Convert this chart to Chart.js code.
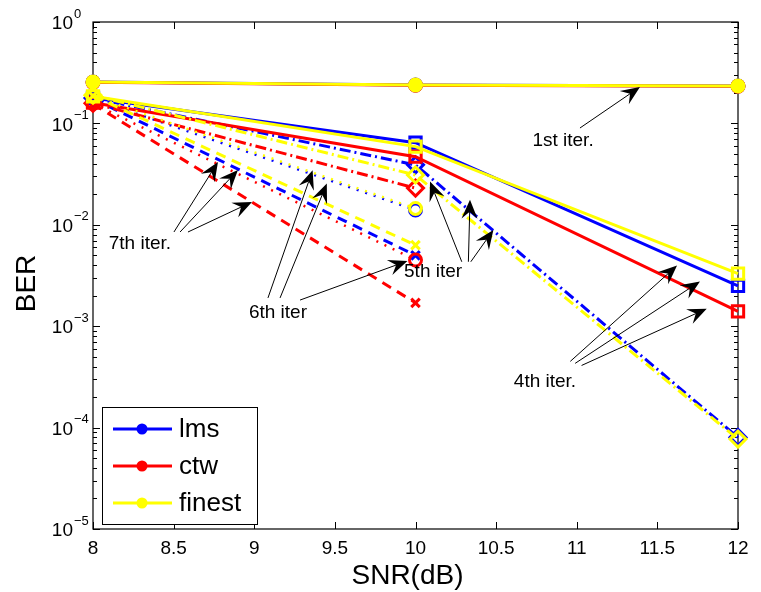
<!DOCTYPE html>
<html>
<head>
<meta charset="utf-8">
<script src="https://cdn.jsdelivr.net/npm/chart.js@4/dist/chart.umd.min.js"></script>
<style>
  html, body { margin: 0; padding: 0; background: #fff; }
  canvas { display: block; }
</style>
</head>
<body>
<canvas id="ber" width="761" height="592"></canvas>
<script>
// SNR points (dB)
const snr = [8, 10, 12];
const xTickValues = [8, 8.5, 9, 9.5, 10, 10.5, 11, 11.5, 12];
const xTickLabels = ['8', '8.5', '9', '9.5', '10', '10.5', '11', '11.5', '12'];
const yDecadeExponents = [0, -1, -2, -3, -4, -5];

// BER per receiver and iteration (null = no errors counted, not drawn)
const lmsIter1 = [0.256, 0.239, 0.234];
const ctwIter1 = [0.254, 0.238, 0.233];
const finestIter1 = [0.256, 0.239, 0.234];

const lmsIter4 = [0.178, 0.0645, 0.0025];
const ctwIter4 = [0.160, 0.047, 0.0014];
const finestIter4 = [0.185, 0.059, 0.0033];

const lmsIter5 = [0.178, 0.039, 0.00008];
const ctwIter5 = [0.158, 0.023, null];
const finestIter5 = [0.190, 0.031, 0.000077];

const lmsIter6 = [0.176, 0.014, null];
const ctwIter6 = [0.157, 0.0045, null];
const finestIter6 = [0.186, 0.0145, null];

const lmsIter7 = [0.175, 0.005, null];
const ctwIter7 = [0.155, 0.0017, null];
const finestIter7 = [0.187, 0.0063, null];

const receivers = ['lms', 'ctw', 'finest'];
const iterations = ['1st', '4th', '5th', '6th', '7th'];
const berTable = {
  lms:    { '1st': lmsIter1, '4th': lmsIter4, '5th': lmsIter5, '6th': lmsIter6, '7th': lmsIter7 },
  ctw:    { '1st': ctwIter1, '4th': ctwIter4, '5th': ctwIter5, '6th': ctwIter6, '7th': ctwIter7 },
  finest: { '1st': finestIter1, '4th': finestIter4, '5th': finestIter5, '6th': finestIter6, '7th': finestIter7 }
};

// Annotation labels and arrow targets, in (SNR, BER) units
const notes = [
  { text: '1st iter.', at: [10.915, 0.0671], arrows: [[[11.02, 0.0901], [11.392, 0.2286]]] },
  { text: '7th iter.', at: [8.291, 0.00647], arrows: [
      [[8.502, 0.00849], [8.775, 0.0416]],
      [[8.540, 0.00849], [8.899, 0.0347]],
      [[8.589, 0.00849], [8.986, 0.0168]] ] },
  { text: '6th iter', at: [9.147, 0.00135], arrows: [
      [[9.085, 0.0019], [9.362, 0.0345]],
      [[9.160, 0.0019], [9.450, 0.0255]],
      [[9.284, 0.00181], [9.950, 0.0044]] ] },
  { text: '5th iter', at: [10.109, 0.00343], arrows: [
      [[10.287, 0.00432], [10.090, 0.0267]],
      [[10.328, 0.00432], [10.338, 0.0177]],
      [[10.343, 0.00432], [10.483, 0.0089]] ] },
  { text: '4th iter.', at: [10.803, 0.000282], arrows: [
      [[10.96, 0.00045], [11.622, 0.00396]],
      [[10.99, 0.00043], [11.764, 0.00276]],
      [[11.03, 0.00041], [11.806, 0.00149]] ] }
];

const colors = { lms: '#0000ff', ctw: '#ff0000', finest: '#ffff00' };
const drawOrder = { finest: 0, ctw: 1, lms: 2 };
const iterStyle = {
  '1st': { dash: [], width: 3, point: 'circle', radius: 6, filled: true },
  '4th': { dash: [], width: 3, point: 'rect', radius: 8, filled: false },
  '5th': { dash: [11, 4, 2, 4], width: 3, point: 'rectRot', radius: 8, filled: false },
  '6th': { dash: [2, 7], width: 2.5, point: 'circle', radius: 6, filled: false },
  '7th': { dash: [10, 7], width: 3, point: 'crossRot', radius: 6, filled: false }
};

const FONT = "'Liberation Sans', Arial, Helvetica, sans-serif";

const datasets = [];
receivers.forEach(r => {
  iterations.forEach(it => {
    const st = iterStyle[it];
    const vals = berTable[r][it];
    const pts = [];
    snr.forEach((s, i) => { if (vals[i] !== null) pts.push({ x: s, y: vals[i] }); });
    datasets.push({
      label: r + ' ' + it,
      data: pts,
      borderColor: colors[r],
      backgroundColor: colors[r],
      borderWidth: st.width,
      borderDash: st.dash,
      pointStyle: st.point,
      pointRadius: st.radius,
      pointBorderWidth: 3,
      pointBorderColor: colors[r],
      pointBackgroundColor: st.filled ? colors[r] : 'rgba(0,0,0,0)',
      order: drawOrder[r],
      clip: false,
      tension: 0,
      fill: false
    });
  });
});

// Boxed axes with inward ticks on all four sides, plus tick labels and titles
const axesFrame = {
  id: 'axesFrame',
  beforeDatasetsDraw(chart) {
    const { ctx, chartArea: a, scales: { x, y } } = chart;
    ctx.save();
    ctx.strokeStyle = '#000';
    ctx.lineWidth = 1.2;
    ctx.strokeRect(a.left, a.top, a.right - a.left, a.bottom - a.top);

    ctx.lineWidth = 1;
    ctx.beginPath();
    xTickValues.forEach(v => {
      const px = Math.round(x.getPixelForValue(v)) + 0.5;
      ctx.moveTo(px, a.bottom); ctx.lineTo(px, a.bottom - 7);
      ctx.moveTo(px, a.top); ctx.lineTo(px, a.top + 7);
    });
    yDecadeExponents.forEach(e => {
      for (let m = 1; m <= 9; m++) {
        if (e === 0 && m > 1) break;
        const v = m * Math.pow(10, e);
        const py = Math.round(y.getPixelForValue(v)) + 0.5;
        const len = m === 1 ? 7 : 4;
        ctx.moveTo(a.left, py); ctx.lineTo(a.left + len, py);
        ctx.moveTo(a.right, py); ctx.lineTo(a.right - len, py);
      }
    });
    ctx.stroke();

    ctx.fillStyle = '#000';
    ctx.font = '19px ' + FONT;
    ctx.textAlign = 'center';
    ctx.textBaseline = 'middle';
    xTickValues.forEach((v, i) => {
      ctx.fillText(xTickLabels[i], x.getPixelForValue(v), a.bottom + 20);
    });

    yDecadeExponents.forEach(e => {
      const py = y.getPixelForValue(Math.pow(10, e));
      ctx.font = '19px ' + FONT;
      ctx.textAlign = 'right';
      ctx.textBaseline = 'middle';
      ctx.fillText('10', 73, py + 2);
      ctx.font = '13px ' + FONT;
      ctx.textAlign = 'left';
      ctx.fillText(e === 0 ? '0' : '\u2212' + Math.abs(e), 74, py - 8);
    });

    ctx.font = '28px ' + FONT;
    ctx.textAlign = 'center';
    ctx.textBaseline = 'middle';
    ctx.fillText('SNR(dB)', (a.left + a.right) / 2 - 8, a.bottom + 47);
    ctx.translate(27, (a.top + a.bottom) / 2 + 8);
    ctx.rotate(-Math.PI / 2);
    ctx.fillText('BER', 0, 0);
    ctx.restore();
  }
};

function drawArrow(ctx, x0, y0, x1, y1) {
  const ang = Math.atan2(y1 - y0, x1 - x0);
  const c = Math.cos(ang), s = Math.sin(ang);
  const L = 19, W = 8, N = 12;
  const nx = x1 - N * c, ny = y1 - N * s;
  ctx.beginPath();
  ctx.moveTo(x0, y0);
  ctx.lineTo(nx, ny);
  ctx.stroke();
  ctx.beginPath();
  ctx.moveTo(x1, y1);
  ctx.lineTo(x1 - L * c - W * s, y1 - L * s + W * c);
  ctx.lineTo(nx, ny);
  ctx.lineTo(x1 - L * c + W * s, y1 - L * s - W * c);
  ctx.closePath();
  ctx.fill();
}

// Text annotations with arrows, and the legend box
const overlay = {
  id: 'overlay',
  afterDatasetsDraw(chart) {
    const { ctx, scales: { x, y } } = chart;
    ctx.save();
    ctx.strokeStyle = '#000';
    ctx.fillStyle = '#000';
    ctx.lineWidth = 1;
    notes.forEach(n => {
      n.arrows.forEach(([from, to]) => {
        drawArrow(ctx, x.getPixelForValue(from[0]), y.getPixelForValue(from[1]),
                       x.getPixelForValue(to[0]), y.getPixelForValue(to[1]));
      });
    });
    ctx.font = '19px ' + FONT;
    ctx.textAlign = 'center';
    ctx.textBaseline = 'middle';
    notes.forEach(n => {
      ctx.fillText(n.text, x.getPixelForValue(n.at[0]), y.getPixelForValue(n.at[1]));
    });

    // legend
    const box = { l: 102, t: 407, w: 155, h: 117 };
    ctx.fillStyle = '#fff';
    ctx.fillRect(box.l, box.t, box.w, box.h);
    ctx.strokeStyle = '#000';
    ctx.lineWidth = 1;
    ctx.strokeRect(box.l + 0.5, box.t + 0.5, box.w, box.h);
    ctx.font = '26px ' + FONT;
    ctx.textAlign = 'left';
    ctx.textBaseline = 'middle';
    receivers.forEach((r, i) => {
      const cy = box.t + 22 + i * 37;
      ctx.strokeStyle = colors[r];
      ctx.fillStyle = colors[r];
      ctx.lineWidth = 3;
      ctx.beginPath();
      ctx.moveTo(box.l + 11, cy); ctx.lineTo(box.l + 70, cy);
      ctx.stroke();
      ctx.beginPath();
      ctx.arc(box.l + 40, cy, 5.5, 0, Math.PI * 2);
      ctx.fill();
      ctx.fillStyle = '#000';
      ctx.fillText(r, box.l + 77, cy + 1);
    });
    ctx.restore();
  }
};

new Chart(document.getElementById('ber'), {
  type: 'line',
  data: { datasets },
  options: {
    responsive: false,
    animation: false,
    layout: { padding: { left: 93, right: 23, top: 22, bottom: 63 } },
    scales: {
      x: { type: 'linear', min: 8, max: 12, display: false },
      y: { type: 'logarithmic', min: 1e-5, max: 1, display: false }
    },
    plugins: { legend: { display: false }, tooltip: { enabled: false } }
  },
  plugins: [axesFrame, overlay]
});
</script>
</body>
</html>
